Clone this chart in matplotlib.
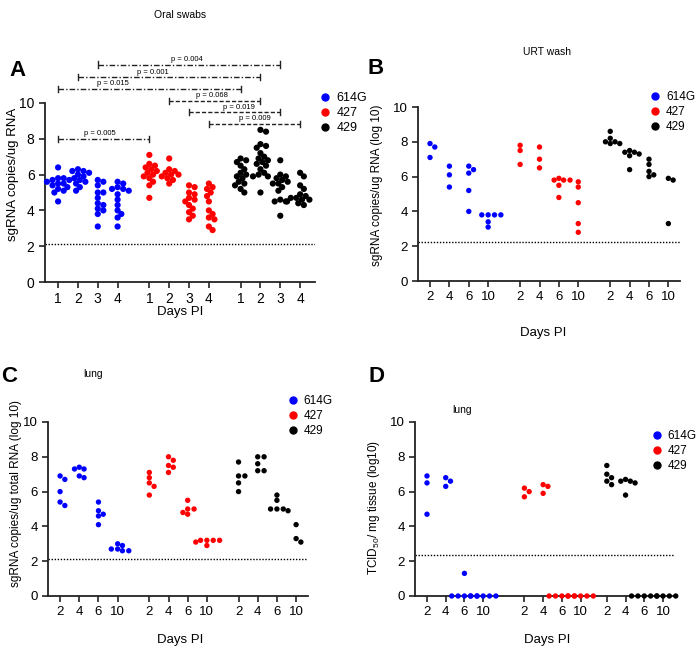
import numpy as np
import matplotlib.pyplot as plt
from matplotlib.lines import Line2D

plt.rcParams['font.family'] = ['Liberation Sans', 'DejaVu Sans']
plt.rcParams['mathtext.fontset'] = 'custom'
plt.rcParams['mathtext.rm'] = 'Liberation Sans'
plt.rcParams['mathtext.it'] = 'Liberation Sans:italic'
plt.rcParams['mathtext.default'] = 'regular'

strains = ['614G', '427', '429']
colors = ['#0000ff', '#ff0000', '#000000']

# Oral swabs, days 1-4
oral_days = ['1', '2', '3', '4']
oral_614g = [
    [6.4, 5.8, 5.8, 5.7, 5.7, 5.6, 5.5, 5.5, 5.4, 5.3, 5.2, 5.1, 5.0, 4.5],
    [6.3, 6.2, 6.2, 6.1, 6.0, 5.9, 5.8, 5.7, 5.6, 5.5, 5.3, 5.1],
    [5.7, 5.6, 5.4, 5.0, 5.0, 4.7, 4.4, 4.3, 4.1, 4.0, 3.8, 3.1],
    [5.6, 5.5, 5.3, 5.2, 5.2, 5.1, 4.9, 4.6, 4.3, 4.0, 3.8, 3.6, 3.1],
]
oral_427 = [
    [7.1, 6.6, 6.5, 6.4, 6.3, 6.2, 6.1, 6.0, 5.9, 5.8, 5.6, 5.4, 4.7],
    [6.9, 6.3, 6.2, 6.1, 6.0, 6.0, 5.9, 5.8, 5.7, 5.5],
    [5.4, 5.3, 5.0, 4.9, 4.7, 4.6, 4.5, 4.3, 4.1, 3.9, 3.7, 3.5],
    [5.5, 5.3, 5.2, 5.0, 4.8, 4.5, 4.0, 3.8, 3.6, 3.5, 3.1, 2.9],
]
oral_429 = [
    [6.9, 6.8, 6.7, 6.5, 6.3, 6.1, 6.0, 5.9, 5.8, 5.6, 5.5, 5.4, 5.2, 5.0],
    [8.5, 8.4, 7.7, 7.6, 7.5, 7.2, 7.0, 6.9, 6.8, 6.7, 6.6, 6.5, 6.3, 6.1,
     6.0, 5.9, 5.9, 5.0],
    [6.8, 6.0, 5.9, 5.8, 5.7, 5.6, 5.5, 5.5, 5.3, 5.1, 4.6, 4.5, 4.5, 3.7],
    [6.1, 5.9, 5.4, 5.2, 4.9, 4.8, 4.7, 4.7, 4.6, 4.6, 4.5, 4.4, 4.3],
]
# (from column, to column, label) ; columns counted 0..11
oral_pvals = [
    (0, 4, 'p = 0.005'),
    (0, 8, 'p = 0.015'),
    (1, 9, 'p = 0.001'),
    (2, 10, 'p = 0.004'),
    (5, 9, 'p = 0.068'),
    (6, 10, 'p = 0.019'),
    (7, 11, 'p = 0.009'),
]

# URT wash, days 2, 4, 6, 10
later_days = ['2', '4', '6', '10']
urt_614g = [[7.9, 7.7, 7.1], [6.6, 6.1, 5.4], [6.6, 6.4, 6.2, 5.2, 4.0],
            [3.8, 3.8, 3.8, 3.8, 3.4, 3.1]]
urt_427 = [[7.8, 7.5, 6.7], [7.7, 7.0, 6.5], [5.9, 5.8, 5.8, 5.8, 5.5, 4.8],
           [5.7, 5.4, 4.5, 3.3, 2.8]]
urt_429 = [[8.6, 8.2, 8.0, 8.0, 7.9, 7.9], [7.5, 7.4, 7.4, 7.3, 7.2, 6.4],
           [7.0, 6.7, 6.3, 6.1, 6.0], [5.9, 5.8, 3.3]]

# Lung sgRNA
lung_614g = [[6.9, 6.7, 6.0, 5.4, 5.2], [7.4, 7.3, 7.3, 6.9, 6.8],
             [5.4, 4.9, 4.7, 4.6, 4.1], [3.0, 2.9, 2.7, 2.7, 2.6, 2.6]]
lung_427 = [[7.1, 6.8, 6.5, 6.3, 5.8], [8.0, 7.8, 7.5, 7.4, 7.1],
            [5.5, 5.0, 5.0, 4.8, 4.7], [3.2, 3.2, 3.2, 3.2, 3.1, 2.9]]
lung_429 = [[7.7, 6.9, 6.9, 6.5, 6.0], [8.0, 8.0, 7.6, 7.2, 7.2],
            [5.8, 5.5, 5.0, 5.0, 5.0, 4.9], [4.1, 3.3, 3.1]]

# Lung TCID50
tcid_614g = [[6.9, 6.5, 4.7], [6.8, 6.6, 6.3], [1.3, 0, 0, 0, 0, 0],
             [0, 0, 0, 0, 0]]
tcid_427 = [[6.2, 6.0, 5.7], [6.4, 6.3, 5.9], [0, 0, 0, 0, 0],
            [0, 0, 0, 0, 0]]
tcid_429 = [[7.5, 7.0, 6.8, 6.6, 6.4], [6.7, 6.6, 6.6, 6.5, 5.8],
            [0, 0, 0, 0, 0], [0, 0, 0, 0]]

fig = plt.figure(figsize=(7, 6.47), dpi=100)
W, H = 700, 647


def add_ax(left, top, right, bottom):
    return fig.add_axes([left / W, 1 - bottom / H, (right - left) / W, (bottom - top) / H])


def swarm(ax, x0, vals, size_px, tight):
    pos = ax.get_position()
    xl, yl = ax.get_xlim(), ax.get_ylim()
    kx = pos.width * W / (xl[1] - xl[0])
    ky = pos.height * H / (yl[1] - yl[0])
    vals = np.asarray(vals, float)
    placed = []
    offs = np.zeros(len(vals))
    step = size_px * 0.3
    for i in np.argsort(-vals, kind='stable'):
        y = vals[i] * ky
        for k in range(400):
            off = ((k + 1) // 2) * step * (1 if k % 2 else -1)
            if all((off - px) ** 2 + (y - py) ** 2 >= (tight * size_px) ** 2 for px, py in placed):
                break
        placed.append((off, y))
        offs[i] = off / kx
    return x0 + offs


def panel(ax, series, ticks, group_starts, xlim, ylabel, s, size_px, tight, tick_fs, lab_fs):
    ax.set_xlim(*xlim)
    ax.set_ylim(0, 10)
    xpos = [g + d for g in group_starts for d in range(4)]
    for gi, (data, col) in enumerate(zip(series, colors)):
        for di, vals in enumerate(data):
            x0 = xpos[gi * 4 + di]
            xs = swarm(ax, x0, vals, size_px, tight)
            ax.scatter(xs, vals, s=s, color=col, edgecolors='none', clip_on=False, zorder=3)
    ax.axhline(2.1, color='black', lw=1.0, ls=(0, (1, 1.2)), zorder=1)
    ax.set_xticks(xpos)
    ax.set_xticklabels(ticks * 3)
    ax.set_yticks([0, 2, 4, 6, 8, 10])
    for sp in ['top', 'right']:
        ax.spines[sp].set_visible(False)
    for sp in ['left', 'bottom']:
        ax.spines[sp].set_linewidth(1.3)
        ax.spines[sp].set_color('#222222')
    ax.tick_params(axis='both', labelsize=tick_fs, width=1.2, length=4, color='#222222')
    ax.set_ylabel(ylabel, fontsize=lab_fs)
    return xpos


def legend(ax, x, y, fs):
    handles = [Line2D([], [], ls='none', marker='o', ms=5, color=c) for c in colors]
    ax.legend(handles, strains, loc='upper left', bbox_to_anchor=(x, y), frameon=False,
              fontsize=fs, handlelength=0.8, handletextpad=0.5, labelspacing=0.25,
              borderaxespad=0)


# Panel A
axA = add_ax(45, 103, 315, 282)
xa = panel(axA, [oral_614g, oral_427, oral_429], oral_days, [0, 4.6, 9.2], (-0.66, 12.95),
           'sgRNA copies/ug RNA', 20, 6.2, 0.7, 10, 9.5)
axA.lines[0].set_ydata([2.1, 2.1])
axA.yaxis.set_label_coords(-0.095, 0.6)
levels = [8.0, 10.8, 11.43, 12.15, 10.13, 9.49, 8.84]
txt_frac = [0.46, 0.3, 0.41, 0.49, 0.47, 0.55, 0.5]
for (i, j, lab), lvl, fr in zip(oral_pvals, levels, txt_frac):
    dash = (0, (4, 1.5, 1, 1.5)) if j - i == 8 or (i, j) == (0, 4) else (0, (3, 1.5))
    x1, x2 = xa[i], xa[j]
    axA.plot([x1, x2], [lvl, lvl], color='#222222', lw=1.0, ls=dash, clip_on=False)
    for xx in (x1, x2):
        axA.plot([xx, xx], [lvl - 0.17, lvl + 0.17], color='#222222', lw=1.0, clip_on=False)
    axA.text(x1 + fr * (x2 - x1), lvl + 0.08, lab, fontsize=5.5, ha='center', va='bottom')
legend(axA, 1.0, 1.09, 9)

# Panel B
axB = add_ax(418, 107, 680, 281)
panel(axB, [urt_614g, urt_427, urt_429], later_days, [0, 4.65, 9.3], (-0.62, 12.9),
      'sgRNA copies/ug RNA (log 10)', 15, 5.3, 0.95, 9.5, 8.5)
axB.lines[0].set_ydata([2.25, 2.25])
axB.yaxis.set_label_coords(-0.134, 0.55)
legend(axB, 0.87, 1.12, 8.5)

# Panel C
axC = add_ax(48, 422, 308, 596)
panel(axC, [lung_614g, lung_427, lung_429], later_days, [0, 4.65, 9.3], (-0.63, 12.92),
      'sgRNA copies/ug total RNA (log 10)', 15, 5.3, 0.95, 9.5, 8.5)
axC.lines[0].set_ydata([2.15, 2.15])
axC.yaxis.set_label_coords(-0.1, 0.59)
legend(axC, 0.905, 1.18, 8.5)

# Panel D
axD = add_ax(415, 422, 675, 596)
panel(axD, [tcid_614g, tcid_427, tcid_429], later_days, [0, 5.2, 9.6], (-0.64, 13.24),
      'TCID$_{\\mathit{50}}$/ mg tissue (log10)', 15, 5.3, 0.95, 9.5, 8.5)
axD.lines[0].set_ydata([2.35, 2.35])
axD.yaxis.set_label_coords(-0.127, 0.51)
legend(axD, 0.895, 0.98, 8.5)

# Figure texts
fig.text(180 / W, 1 - 15 / H, 'Oral swabs', fontsize=7.5, ha='center', va='center')
fig.text(547 / W, 1 - 52 / H, 'URT wash', fontsize=7.5, ha='center', va='center')
fig.text(93 / W, 1 - 374 / H, 'lung', fontsize=7.5, ha='center', va='center')
fig.text(462 / W, 1 - 410 / H, 'lung', fontsize=7.5, ha='center', va='center')
for x, y in [(180, 312), (543, 333), (180, 640), (547, 640)]:
    fig.text(x / W, 1 - y / H, 'Days PI', fontsize=9.5, ha='center', va='center')
for lab, x, y in [('A', 18, 70), ('B', 376, 69), ('C', 9, 377), ('D', 376, 377)]:
    fig.text(x / W, 1 - y / H, lab, fontsize=16, fontweight='bold', ha='center', va='center')

fig.savefig('out.png', dpi=100)
